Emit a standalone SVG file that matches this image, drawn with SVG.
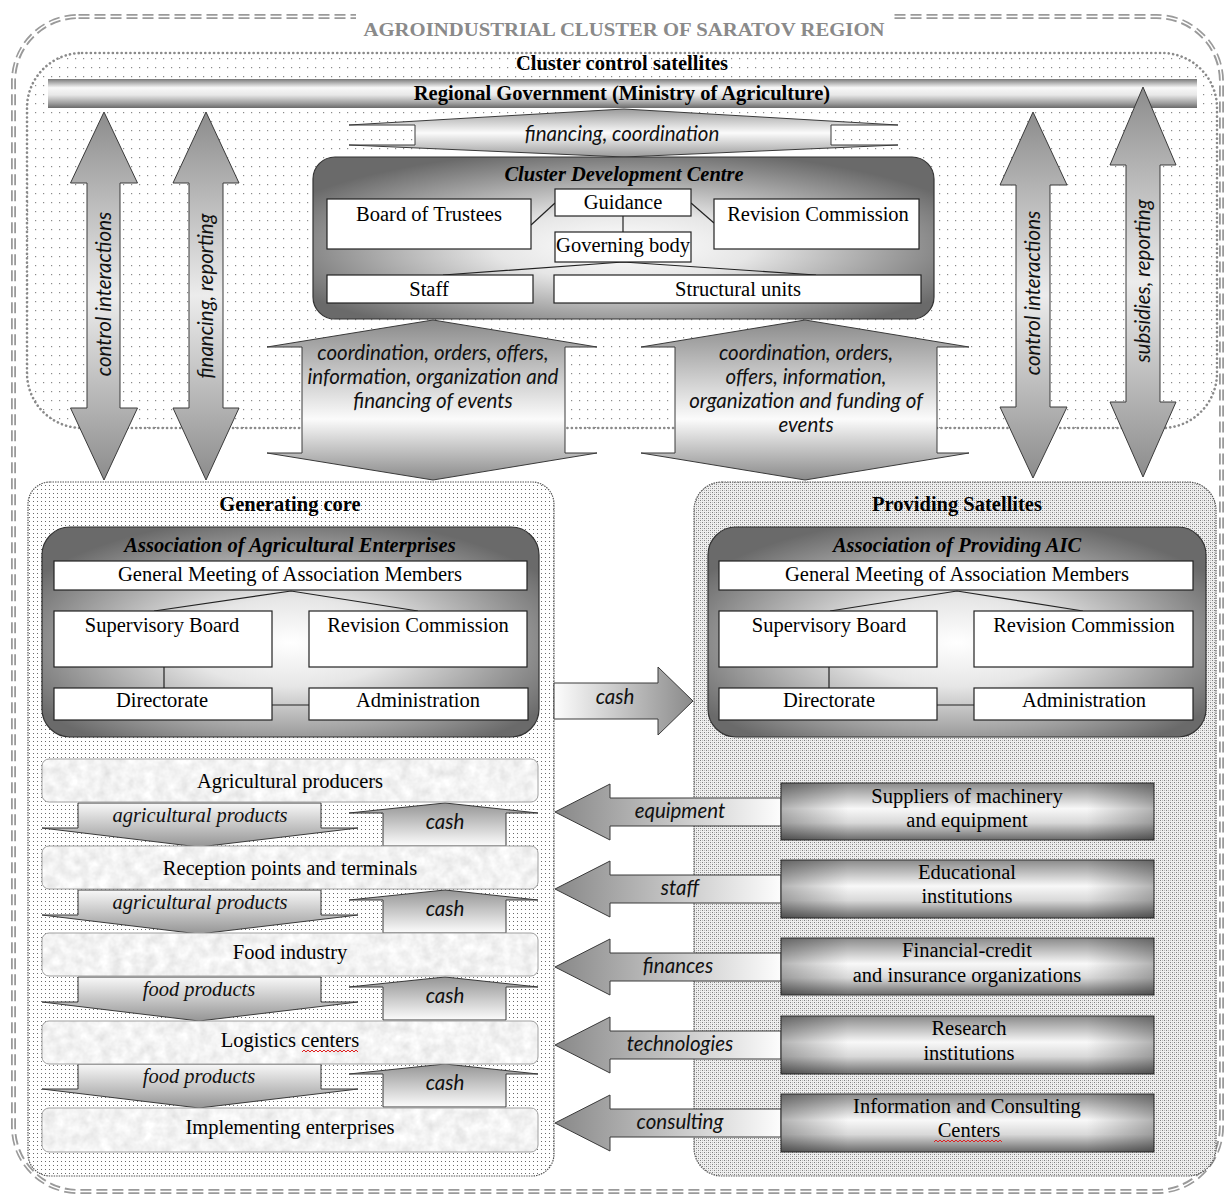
<svg xmlns="http://www.w3.org/2000/svg" xmlns:xlink="http://www.w3.org/1999/xlink" width="1226" height="1196" viewBox="0 0 1226 1196">
<style>
.t{font-family:"Liberation Serif","Times New Roman",serif;font-size:20.5px;fill:#000;text-anchor:middle}
.b{font-weight:bold}
.bi{font-weight:bold;font-style:italic}
.si{font-family:"Liberation Serif","Times New Roman",serif;font-style:italic;font-size:20.5px;fill:#111;text-anchor:middle}
.a{font-family:Lato,"Open Sans",sans-serif;font-style:italic;font-size:20.5px;fill:#111;text-anchor:middle}
.wb{fill:#fff;stroke:#222;stroke-width:1.2}
.ln{stroke:#222;stroke-width:1.2;fill:none}
.ar{stroke:#3a3a3a;stroke-width:1}
.item{fill:#e6e6e6}
.itemb{fill:none;stroke:#a0a0a0;stroke-width:1}
.sat{fill:url(#gMetal);stroke:#333;stroke-width:1}
.sq{fill:none;stroke:#e02020;stroke-width:1}
</style>
<defs>
<pattern id="pSparse" width="8" height="9" patternUnits="userSpaceOnUse"><rect width="8" height="9" fill="#fff"/><rect x="3" y="4" width="1.2" height="1.2" fill="#8a8a8a"/></pattern>
<pattern id="pDense" width="4" height="4" patternUnits="userSpaceOnUse"><rect width="4" height="4" fill="#fff"/><rect x="1" y="1" width="1" height="1" fill="#6a6a6a"/></pattern>
<pattern id="pCheck" width="4" height="4" patternUnits="userSpaceOnUse"><rect width="4" height="4" fill="#efefef"/><rect x="0" y="0" width="1" height="1" fill="#808080"/><rect x="2" y="2" width="1" height="1" fill="#808080"/><rect x="2" y="0" width="1" height="1" fill="#bdbdbd"/><rect x="0" y="2" width="1" height="1" fill="#bdbdbd"/></pattern>
<linearGradient id="gSide" x1="0" y1="0" x2="0" y2="1"><stop offset="0" stop-color="#8c8c8c"/><stop offset="0.5" stop-color="#ececec"/><stop offset="1" stop-color="#8c8c8c"/></linearGradient>
<linearGradient id="gBig" x1="0" y1="0" x2="0" y2="1"><stop offset="0" stop-color="#8a8a8a"/><stop offset="0.62" stop-color="#fbfbfb"/><stop offset="1" stop-color="#8a8a8a"/></linearGradient>
<linearGradient id="gFin" x1="0" y1="0" x2="0" y2="1"><stop offset="0" stop-color="#9a9a9a"/><stop offset="0.5" stop-color="#fbfbfb"/><stop offset="1" stop-color="#9a9a9a"/></linearGradient>
<linearGradient id="gBar" x1="0" y1="0" x2="0" y2="1"><stop offset="0" stop-color="#7a7a7a"/><stop offset="0.3" stop-color="#f8f8f8"/><stop offset="0.55" stop-color="#e8e8e8"/><stop offset="0.85" stop-color="#9a9a9a"/><stop offset="1" stop-color="#6a6a6a"/></linearGradient>
<radialGradient id="gRad" cx="0.5" cy="0.55" r="0.6"><stop offset="0" stop-color="#ffffff"/><stop offset="0.35" stop-color="#e6e6e6"/><stop offset="1" stop-color="#6a6a6a"/></radialGradient>
<linearGradient id="gDown" x1="0" y1="0" x2="0" y2="1"><stop offset="0" stop-color="#f8f8f8"/><stop offset="1" stop-color="#959595"/></linearGradient>
<linearGradient id="gUp" x1="0" y1="0" x2="0" y2="1"><stop offset="0" stop-color="#959595"/><stop offset="1" stop-color="#fcfcfc"/></linearGradient>
<linearGradient id="gLeft" x1="0" y1="0" x2="1" y2="0"><stop offset="0" stop-color="#888"/><stop offset="1" stop-color="#fdfdfd"/></linearGradient>
<linearGradient id="gRight" x1="0" y1="0" x2="1" y2="0"><stop offset="0" stop-color="#fdfdfd"/><stop offset="1" stop-color="#8a8a8a"/></linearGradient>
<linearGradient id="gMetal" x1="0" y1="0" x2="0" y2="1"><stop offset="0" stop-color="#8a8a8a"/><stop offset="0.45" stop-color="#f8f8f8"/><stop offset="0.7" stop-color="#d8d8d8"/><stop offset="1" stop-color="#6a6a6a"/></linearGradient>
<linearGradient id="gEdge" x1="0" y1="0" x2="1" y2="0"><stop offset="0" stop-color="#000" stop-opacity="0.28"/><stop offset="0.18" stop-color="#000" stop-opacity="0"/><stop offset="0.82" stop-color="#000" stop-opacity="0"/><stop offset="1" stop-color="#000" stop-opacity="0.28"/></linearGradient>
<filter id="tex" x="0" y="0" width="100%" height="100%">
<feTurbulence type="fractalNoise" baseFrequency="0.09" numOctaves="3" seed="4" result="n"/>
<feColorMatrix in="n" type="matrix" values="0.35 0 0 0 0.72  0.35 0 0 0 0.72  0.35 0 0 0 0.72  0 0 0 0 1" result="g"/>
<feComposite in="g" in2="SourceGraphic" operator="in"/>
</filter>
<polygon id="aDown" points="78,0 321,0 321,25 358,25 199,44 42,25 78,25" fill="url(#gDown)" class="ar"/>
<polygon id="aUp" points="445,0 538,10 506,10 506,43 383,43 383,10 349,10" fill="url(#gUp)" class="ar"/>
<polygon id="aLeft" points="555,0 610,-28 610,-14 781,-14 781,14 610,14 610,28" fill="url(#gLeft)" class="ar"/>
</defs>

<rect width="1226" height="1196" fill="#fff"/>

<g id="cluster-border">
<rect x="13.5" y="16.5" width="1208" height="1175" rx="65" fill="none" stroke="#9a9a9a" stroke-width="5" stroke-dasharray="11 5"/>
<rect x="13.5" y="16.5" width="1208" height="1175" rx="65" fill="none" stroke="#fff" stroke-width="1.4"/>
<rect x="356" y="8" width="536" height="32" fill="#fff"/>
<text class="t b" x="624" y="36" style="fill:#8a8a8a;font-size:19px" textLength="521" lengthAdjust="spacingAndGlyphs">AGROINDUSTRIAL CLUSTER OF SARATOV REGION</text>
</g>

<g id="control-satellites">
<rect x="27" y="53" width="1190" height="375" rx="55" fill="url(#pSparse)" stroke="#8a8a8a" stroke-width="2.6" stroke-dasharray="0.1 4.3" stroke-linecap="round"/>
<text class="t b" x="622" y="70">Cluster control satellites</text>
</g>

<g id="regional-government">
<rect x="48" y="79" width="1149" height="29" fill="url(#gBar)"/>
<text class="t b" x="622" y="100">Regional Government (Ministry of Agriculture)</text>
</g>

<g id="generating-core">
<rect x="28" y="482" width="526" height="694" rx="22" fill="url(#pDense)" stroke="#555" stroke-width="1.2" stroke-dasharray="1.5 1"/>
<text class="t b" x="290" y="511">Generating core</text>
</g>

<g id="providing-satellites">
<rect x="694" y="482" width="522" height="694" rx="28" fill="url(#pCheck)" stroke="#555" stroke-width="1.2" stroke-dasharray="1.5 1"/>
<text class="t b" x="957" y="511">Providing Satellites</text>
</g>

<g id="connectors">
<polygon points="104,112 137.5,183 120,183 120,408 137.5,408 104,480 70.5,408 87,408 87,183 70.5,183" fill="url(#gSide)" class="ar"/>
<polygon points="206,112 239,183 223,183 223,408 239,408 206,480 173,408 189,408 189,183 173,183" fill="url(#gSide)" class="ar"/>
<polygon points="1033,112 1067,185 1050,185 1050,407 1067,407 1033,478 1000,407 1016,407 1016,185 1000,185" fill="url(#gSide)" class="ar"/>
<polygon points="1143,87 1176,165 1160,165 1160,402 1176,402 1143,477 1110,402 1126,402 1126,165 1110,165" fill="url(#gSide)" class="ar"/>
<text class="a" transform="translate(111,294) rotate(-90)">control interactions</text>
<text class="a" transform="translate(213,296) rotate(-90)">financing, reporting</text>
<text class="a" transform="translate(1040,293) rotate(-90)">control interactions</text>
<text class="a" transform="translate(1150,281) rotate(-90)">subsidies, reporting</text>

<polygon points="624,109 898,125 831,125 831,145 898,145 624,157 349,145 415,145 415,125 349,125" fill="url(#gFin)" class="ar"/>
<text class="a" x="622" y="141">financing, coordination</text>

<polygon points="433,320 597,347 565,347 565,453 597,453 433,480 267,453 302,453 302,347 267,347" fill="url(#gBig)" class="ar"/>
<text class="a" x="433" y="360">coordination, orders, offers,</text>
<text class="a" x="433" y="384">information, organization and</text>
<text class="a" x="433" y="408">financing of events</text>
<polygon points="805,320 969,347 937,347 937,453 969,453 805,480 641,453 675,453 675,347 641,347" fill="url(#gBig)" class="ar"/>
<text class="a" x="806" y="360">coordination, orders,</text>
<text class="a" x="806" y="384">offers, information,</text>
<text class="a" x="806" y="408">organization and funding of</text>
<text class="a" x="806" y="432">events</text>

<polygon points="554,683 658,683 658,667 693,701 658,735 658,719 554,719" fill="url(#gRight)" class="ar"/>
<text class="a" x="615" y="704">cash</text>

<use xlink:href="#aDown" y="803"/>
<use xlink:href="#aDown" y="890"/>
<use xlink:href="#aDown" y="977"/>
<use xlink:href="#aDown" y="1064"/>
<text class="si" x="200" y="822">agricultural products</text>
<text class="si" x="200" y="909">agricultural products</text>
<text class="si" x="199" y="996">food products</text>
<text class="si" x="199" y="1083">food products</text>
<use xlink:href="#aUp" y="803"/>
<use xlink:href="#aUp" y="890"/>
<use xlink:href="#aUp" y="977"/>
<use xlink:href="#aUp" y="1064"/>
<text class="a" x="445" y="829">cash</text>
<text class="a" x="445" y="916">cash</text>
<text class="a" x="445" y="1003">cash</text>
<text class="a" x="445" y="1090">cash</text>

<use xlink:href="#aLeft" y="812"/>
<use xlink:href="#aLeft" y="889"/>
<use xlink:href="#aLeft" y="967"/>
<use xlink:href="#aLeft" y="1045"/>
<use xlink:href="#aLeft" y="1123"/>
<text class="a" x="680" y="818">equipment</text>
<text class="a" x="680" y="895">staff</text>
<text class="a" x="678" y="973">finances</text>
<text class="a" x="680" y="1051">technologies</text>
<text class="a" x="680" y="1129">consulting</text>
</g>

<g id="cluster-development-centre">
<rect x="313" y="157" width="621" height="162" rx="22" fill="url(#gRad)" stroke="#333" stroke-width="1.2"/>
<text class="t bi" x="624" y="181">Cluster Development Centre</text>
<line class="ln" x1="555" y1="203" x2="531" y2="225"/>
<line class="ln" x1="691" y1="203" x2="714" y2="223"/>
<line class="ln" x1="623" y1="216" x2="623" y2="232"/>
<polyline class="ln" points="443,275 623,262 816,275"/>
<rect class="wb" x="327" y="199" width="204" height="50"/>
<text class="t" x="429" y="221">Board of Trustees</text>
<rect class="wb" x="555" y="189" width="136" height="27"/>
<text class="t" x="623" y="209">Guidance</text>
<rect class="wb" x="555" y="232" width="136" height="30"/>
<text class="t" x="623" y="252">Governing body</text>
<rect class="wb" x="714" y="199" width="205" height="50"/>
<text class="t" x="818" y="221">Revision Commission</text>
<rect class="wb" x="327" y="275" width="206" height="28"/>
<text class="t" x="429" y="296">Staff</text>
<rect class="wb" x="554" y="275" width="367" height="28"/>
<text class="t" x="738" y="296">Structural units</text>
</g>

<g id="association-agricultural-enterprises">
<rect x="42" y="527" width="497" height="210" rx="28" fill="url(#gRad)" stroke="#333" stroke-width="1.2"/>
<text class="t bi" x="290" y="552">Association of Agricultural Enterprises</text>
<polyline class="ln" points="154,611 291,591 418,611"/>
<line class="ln" x1="164" y1="667" x2="164" y2="688"/>
<line class="ln" x1="272" y1="705" x2="309" y2="705"/>
<rect class="wb" x="54" y="561" width="473" height="29"/>
<text class="t" x="290" y="581">General Meeting of Association Members</text>
<rect class="wb" x="54" y="611" width="218" height="56"/>
<text class="t" x="162" y="632">Supervisory Board</text>
<rect class="wb" x="309" y="611" width="218" height="56"/>
<text class="t" x="418" y="632">Revision Commission</text>
<rect class="wb" x="54" y="688" width="218" height="32"/>
<text class="t" x="162" y="707">Directorate</text>
<rect class="wb" x="309" y="688" width="219" height="32"/>
<text class="t" x="418" y="707">Administration</text>
</g>

<g id="association-providing-aic">
<rect x="708" y="527" width="498" height="210" rx="28" fill="url(#gRad)" stroke="#333" stroke-width="1.2"/>
<text class="t bi" x="957" y="552">Association of Providing AIC</text>
<polyline class="ln" points="830,611 957,591 1083,611"/>
<line class="ln" x1="829" y1="667" x2="829" y2="688"/>
<line class="ln" x1="937" y1="705" x2="974" y2="705"/>
<rect class="wb" x="719" y="561" width="474" height="29"/>
<text class="t" x="957" y="581">General Meeting of Association Members</text>
<rect class="wb" x="719" y="611" width="218" height="56"/>
<text class="t" x="829" y="632">Supervisory Board</text>
<rect class="wb" x="974" y="611" width="219" height="56"/>
<text class="t" x="1084" y="632">Revision Commission</text>
<rect class="wb" x="719" y="688" width="218" height="32"/>
<text class="t" x="829" y="707">Directorate</text>
<rect class="wb" x="974" y="688" width="219" height="32"/>
<text class="t" x="1084" y="707">Administration</text>
</g>

<g id="agricultural-producers">
<rect class="item" x="42" y="759" width="496" height="43" rx="7" filter="url(#tex)"/>
<rect class="itemb" x="42" y="759" width="496" height="43" rx="7"/>
<text class="t" x="290" y="788">Agricultural producers</text>
</g>
<g id="reception-points">
<rect class="item" x="42" y="846" width="496" height="43" rx="7" filter="url(#tex)"/>
<rect class="itemb" x="42" y="846" width="496" height="43" rx="7"/>
<text class="t" x="290" y="875">Reception points and terminals</text>
</g>
<g id="food-industry">
<rect class="item" x="42" y="933" width="496" height="43" rx="7" filter="url(#tex)"/>
<rect class="itemb" x="42" y="933" width="496" height="43" rx="7"/>
<text class="t" x="290" y="959">Food industry</text>
</g>
<g id="logistics-centers">
<rect class="item" x="42" y="1021" width="496" height="43" rx="7" filter="url(#tex)"/>
<rect class="itemb" x="42" y="1021" width="496" height="43" rx="7"/>
<text class="t" x="290" y="1047">Logistics centers</text>
<path class="sq" d="M302 1052 l2 -2 l2 2 l2 -2 l2 2 l2 -2 l2 2 l2 -2 l2 2 l2 -2 l2 2 l2 -2 l2 2 l2 -2 l2 2 l2 -2 l2 2 l2 -2 l2 2 l2 -2 l2 2 l2 -2 l2 2 l2 -2 l2 2 l2 -2 l2 2 l2 -2 l2 2"/>
</g>
<g id="implementing-enterprises">
<rect class="item" x="42" y="1108" width="496" height="44" rx="7" filter="url(#tex)"/>
<rect class="itemb" x="42" y="1108" width="496" height="44" rx="7"/>
<text class="t" x="290" y="1134">Implementing enterprises</text>
</g>

<g id="suppliers-machinery">
<rect class="sat" x="781" y="783" width="373" height="57"/>
<rect x="781" y="783" width="373" height="57" fill="url(#gEdge)"/>
<text class="t" x="967" y="803">Suppliers of machinery</text>
<text class="t" x="967" y="827">and equipment</text>
</g>
<g id="educational-institutions">
<rect class="sat" x="781" y="860" width="373" height="58"/>
<rect x="781" y="860" width="373" height="58" fill="url(#gEdge)"/>
<text class="t" x="967" y="879">Educational</text>
<text class="t" x="967" y="903">institutions</text>
</g>
<g id="financial-credit">
<rect class="sat" x="781" y="938" width="373" height="57"/>
<rect x="781" y="938" width="373" height="57" fill="url(#gEdge)"/>
<text class="t" x="967" y="957">Financial-credit</text>
<text class="t" x="967" y="982">and insurance organizations</text>
</g>
<g id="research-institutions">
<rect class="sat" x="781" y="1016" width="373" height="58"/>
<rect x="781" y="1016" width="373" height="58" fill="url(#gEdge)"/>
<text class="t" x="969" y="1035">Research</text>
<text class="t" x="969" y="1060">institutions</text>
</g>
<g id="consulting-centers">
<rect class="sat" x="781" y="1094" width="373" height="58"/>
<rect x="781" y="1094" width="373" height="58" fill="url(#gEdge)"/>
<text class="t" x="967" y="1113">Information and Consulting</text>
<text class="t" x="969" y="1137">Centers</text>
<path class="sq" d="M934 1142 l2 -2 l2 2 l2 -2 l2 2 l2 -2 l2 2 l2 -2 l2 2 l2 -2 l2 2 l2 -2 l2 2 l2 -2 l2 2 l2 -2 l2 2 l2 -2 l2 2 l2 -2 l2 2 l2 -2 l2 2 l2 -2 l2 2 l2 -2 l2 2 l2 -2 l2 2 l2 -2 l2 2 l2 -2 l2 2 l2 -2 l2 2"/>
</g>
</svg>
